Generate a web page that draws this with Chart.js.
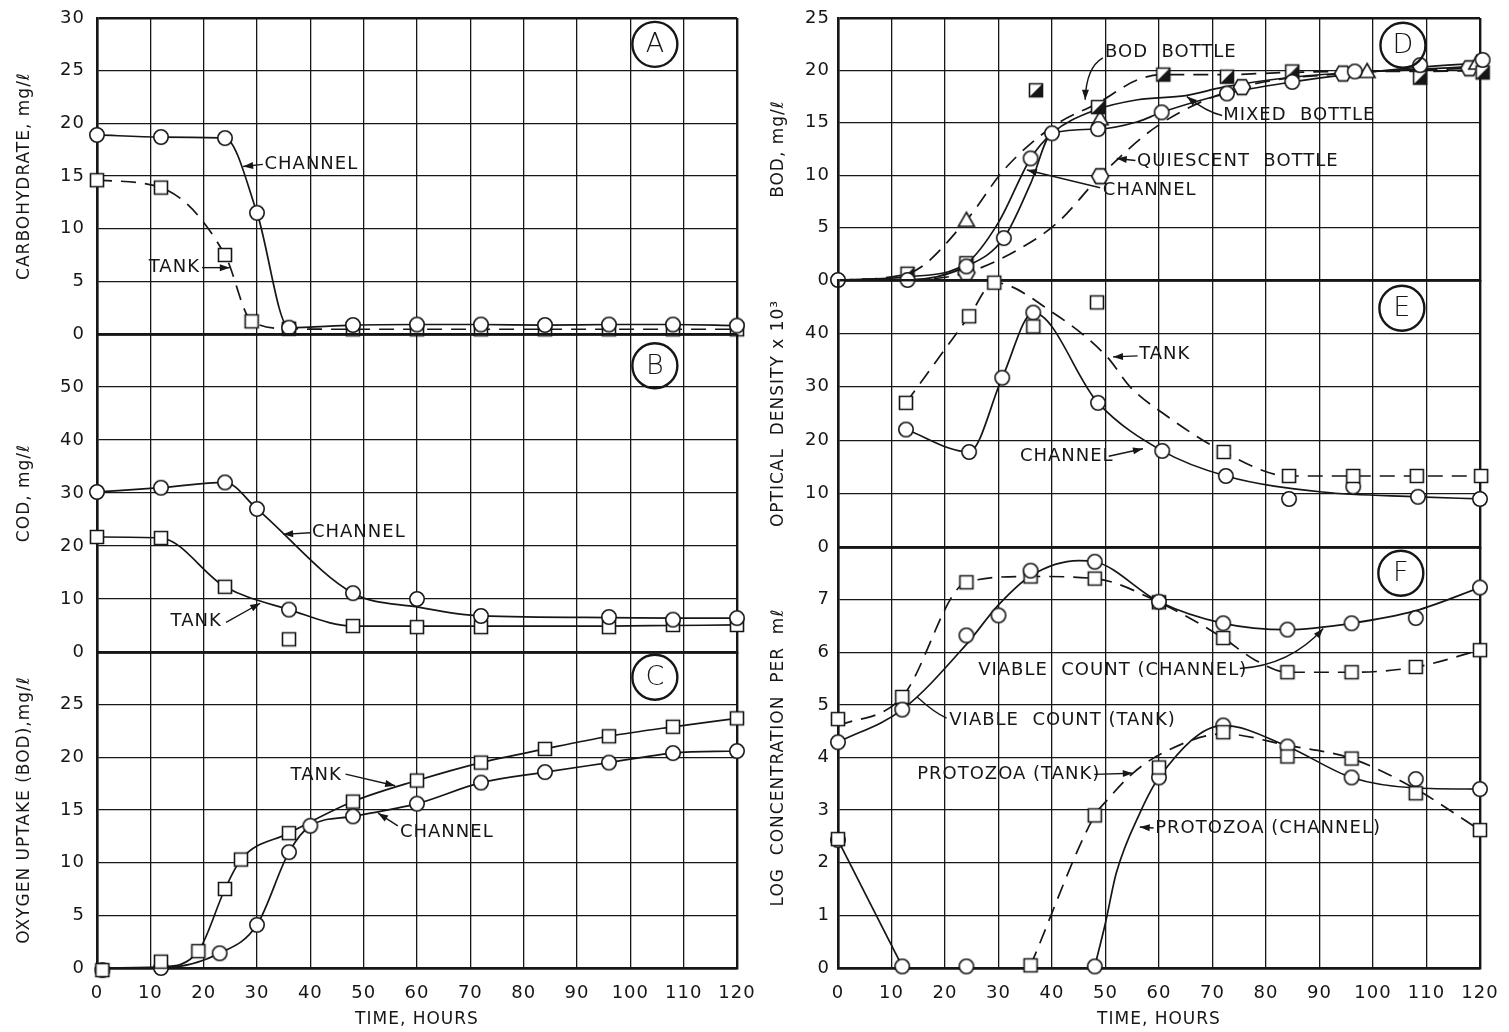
<!DOCTYPE html>
<html>
<head>
<meta charset="utf-8">
<script src="https://cdn.jsdelivr.net/npm/chart.js@4.4.1/dist/chart.umd.min.js"></script>
<style>
  body { margin: 0; background: #fff; width: 1509px; height: 1032px; overflow: hidden; position: relative; }
  canvas { position: absolute; }
</style>
</head>
<body>
<script>
// A: carbohydrate
const aChanX = [0, 12, 24, 30, 36, 48, 60, 72, 84, 96, 108, 120];
const aChanY = [18.9, 18.7, 18.6, 11.5, 0.6, 0.85, 0.9, 0.9, 0.85, 0.9, 0.9, 0.8];
const aTankX = [0, 12, 24, 29, 36, 48, 60, 72, 84, 96, 108, 120];
const aTankY = [14.6, 13.9, 7.5, 1.2, 0.5, 0.45, 0.45, 0.45, 0.45, 0.45, 0.45, 0.45];

// B: COD
const bChanX = [0, 12, 24, 30, 36, 48, 60, 72, 96, 108, 120];
const bChanY = [30.2, 31.0, 32.0, 27.0, 8.0, 11.1, 10.0, 6.8, 6.6, 6.1, 6.4];
const bChanFitX = [0, 12, 24, 30, 48, 60, 72, 96, 108, 120];
const bChanFitY = [30.2, 31.0, 32.0, 27.0, 11.1, 8.5, 6.8, 6.5, 6.4, 6.4];
const bTankX = [0, 12, 24, 36, 48, 60, 72, 96, 108, 120];
const bTankY = [21.7, 21.5, 12.3, 2.4, 4.9, 4.7, 4.7, 4.7, 5.1, 5.1];
const bTankFitX = [0, 12, 24, 36, 48, 60, 72, 96, 108, 120];
const bTankFitY = [21.7, 21.5, 12.3, 8.0, 4.9, 4.9, 4.9, 4.9, 5.0, 5.1];

// C: oxygen uptake
const cTankX = [1, 12, 19, 24, 27, 36, 48, 60, 72, 84, 96, 108, 120];
const cTankY = [-0.2, 0.6, 1.6, 7.5, 10.3, 12.8, 15.8, 17.8, 19.5, 20.8, 22.0, 22.9, 23.7];
const cTankFitX = [0, 12, 19, 24, 27, 36, 48, 60, 72, 84, 96, 108, 120];
const cTankFitY = [0, 0.1, 1.6, 7.5, 10.3, 12.8, 15.8, 17.8, 19.5, 20.8, 22.0, 22.9, 23.7];
const cChanX = [1, 12, 23, 30, 36, 40, 48, 60, 72, 84, 96, 108, 120];
const cChanY = [-0.2, 0.0, 1.4, 4.1, 11.0, 13.5, 14.4, 15.6, 17.6, 18.6, 19.5, 20.4, 20.6];
const cChanFitX = [0, 12, 23, 30, 36, 40, 48, 60, 72, 84, 96, 108, 120];
const cChanFitY = [0, 0, 1.4, 4.1, 11.0, 13.5, 14.4, 15.6, 17.6, 18.6, 19.5, 20.4, 20.6];

// D: BOD
const dChanX = [0, 13, 24, 31, 36, 40, 48.6, 60.5, 72.7, 84.9, 96.6, 108.8, 120.5];
const dChanY = [0, 0, 1.3, 4.0, 11.6, 14.0, 14.4, 16.0, 17.8, 18.9, 19.9, 20.5, 21.0];
const dChanFitX = [0, 13, 24, 31, 36, 40, 48.6, 56, 60.5, 72.7, 84.9, 96.6, 108.8, 120];
const dChanFitY = [0, 0, 1.3, 4.0, 9.2, 14.0, 14.4, 15.1, 16.0, 17.8, 18.9, 19.7, 20.3, 20.7];
const dBodX = [13, 24, 37, 48.6, 60.8, 72.7, 84.9, 108.8, 120.5];
const dBodY = [0.6, 1.6, 18.1, 16.5, 19.6, 19.4, 19.9, 19.3, 19.8];
const dBodFitX = [0, 13, 24, 31, 40, 48.6, 56, 61, 72, 84, 96, 108, 120];
const dBodFitY = [0, 0.6, 5.7, 10.5, 14.6, 16.9, 19.1, 19.6, 19.6, 19.8, 19.9, 19.9, 20.0];
const dMixX = [24, 49, 98.9, 119.4];
const dMixY = [5.7, 15.4, 19.9, 20.7];
const dMixFitX = [0, 13, 24, 30, 36, 40, 48, 56, 65, 72, 84, 96, 108, 120];
const dMixFitY = [0, 0.3, 1.6, 5.5, 11.6, 14.0, 16.2, 17.2, 17.6, 18.4, 19.3, 19.8, 20.1, 20.4];
const dQuiX = [24, 49, 75.5, 94.4, 118];
const dQuiY = [0.7, 9.9, 18.4, 19.7, 20.2];
const dQuiFitX = [0, 12, 24, 36, 41.5, 49, 60, 75.5, 94.4, 118];
const dQuiFitY = [0, 0, 0.7, 3.6, 5.7, 9.9, 14.8, 18.4, 19.7, 20.2];

// E: optical density
const eTankX = [12.7, 24.5, 29.2, 36.5, 48.4, 72.1, 84.3, 96.3, 108.2, 120.2];
const eTankY = [27.0, 43.2, 49.5, 41.3, 45.8, 17.8, 13.3, 13.3, 13.3, 13.3];
const eTankFitX = [12.7, 24.5, 29.2, 40, 50.3, 54.6, 60.8, 72.1, 84.3, 96.3, 108.2, 120.2];
const eTankFitY = [27.0, 43.2, 49.5, 44.0, 35.6, 30.0, 25.0, 17.8, 13.3, 13.3, 13.3, 13.3];
const eChanX = [12.7, 24.5, 30.7, 36.5, 48.6, 60.6, 72.5, 84.3, 96.3, 108.4, 120];
const eChanY = [22.0, 17.8, 31.7, 43.9, 27.0, 18.0, 13.3, 9.0, 11.3, 9.4, 9.0];
const eChanFitX = [12.7, 24.5, 30.7, 36.5, 48.6, 60.6, 72.5, 90.5, 108.4, 120];
const eChanFitY = [22.0, 17.8, 31.7, 43.9, 27.0, 18.0, 13.3, 10.3, 9.4, 9.0];

// F: log concentration
const fVcChanX = [0, 12, 24, 30, 36, 48, 60, 72, 84, 96, 108, 120];
const fVcChanY = [4.29, 4.91, 6.32, 6.70, 7.55, 7.72, 6.96, 6.55, 6.43, 6.55, 6.65, 7.23];
const fVcChanFitX = [0, 12, 24, 30, 36, 45, 48, 60, 72, 84, 96, 108, 120];
const fVcChanFitY = [4.29, 4.91, 6.15, 6.9, 7.45, 7.74, 7.72, 6.96, 6.55, 6.43, 6.55, 6.79, 7.23];
const fVcTankX = [0, 12, 24, 36, 48, 60, 72, 84, 96, 108, 120];
const fVcTankY = [4.73, 5.15, 7.33, 7.44, 7.40, 6.95, 6.27, 5.62, 5.62, 5.72, 6.04];
const fVcTankFitX = [0, 12, 24, 36, 48, 60, 72, 78, 84, 96, 108, 120];
const fVcTankFitY = [4.6, 5.15, 7.33, 7.44, 7.40, 6.95, 6.27, 5.85, 5.62, 5.62, 5.72, 6.04];
const fProTankX = [0, 36, 48, 60, 72, 84, 96, 108, 120];
const fProTankY = [2.45, 0.05, 2.9, 3.81, 4.48, 4.02, 3.98, 3.32, 2.62];
const fProTankFitX = [36, 48, 50.3, 55.1, 60.6, 72, 84, 96, 108, 120];
const fProTankFitY = [0.05, 2.9, 3.19, 3.7, 4.08, 4.45, 4.23, 3.98, 3.40, 2.62];
const fProChanX = [0, 12, 24, 48, 60, 72, 84, 96, 108, 120];
const fProChanY = [2.43, 0.03, 0.03, 0.03, 3.62, 4.61, 4.21, 3.62, 3.59, 3.40];
const fProChanFit1X = [0, 12];
const fProChanFit1Y = [2.43, 0.03];
const fProChanFit2X = [48, 50, 52, 56.4, 60, 72, 84, 96, 108, 120];
const fProChanFit2Y = [0.03, 0.86, 1.8, 2.94, 3.62, 4.61, 4.21, 3.62, 3.42, 3.40];

const INK = '#161616';
Chart.defaults.font.family = 'DejaVu Sans';
Chart.defaults.color = INK;

// marker glyphs, white inside so the curves stop at the outline
function glyph(kind) {
    const s = 24, m = s / 2;
    const c = document.createElement('canvas');
    c.width = c.height = s;
    const g = c.getContext('2d');
    g.lineWidth = 1.6;
    g.strokeStyle = INK;
    g.fillStyle = '#fff';
    g.beginPath();
    if (kind === 'circle') {
        g.arc(m, m, 7.2, 0, Math.PI * 2);
    } else if (kind === 'square' || kind === 'half') {
        g.rect(m - 6.5, m - 6.5, 13, 13);
    } else if (kind === 'triangle') {
        g.moveTo(m, m - 8); g.lineTo(m + 8, m + 6); g.lineTo(m - 8, m + 6); g.closePath();
    } else if (kind === 'hexagon') {
        for (let i = 0; i < 6; i++) {
            const a = Math.PI / 3 * i;
            g.lineTo(m + 8.5 * Math.cos(a), m + 8.5 * Math.sin(a));
        }
        g.closePath();
    }
    g.fill();
    g.stroke();
    if (kind === 'half') {
        g.beginPath();
        g.moveTo(m + 6.5, m - 6.5); g.lineTo(m + 6.5, m + 6.5); g.lineTo(m - 6.5, m + 6.5);
        g.closePath();
        g.fillStyle = INK;
        g.fill();
    }
    return c;
}
const shapes = {};
['circle', 'square', 'half', 'triangle', 'hexagon'].forEach(k => shapes[k] = glyph(k));

const pts = (xs, ys) => xs.map((x, i) => ({ x, y: ys[i] }));

function marks(xs, ys, shape) {
    return { data: pts(xs, ys), showLine: false, pointStyle: shapes[shape], pointRadius: 7, order: 0, clip: false };
}

function curve(xs, ys, dashed) {
    return {
        data: pts(xs, ys), pointRadius: 0, borderColor: INK, borderWidth: 1.7,
        borderDash: dashed ? [15, 9] : [], cubicInterpolationMode: 'monotone', fill: false, order: 1
    };
}

const COLS = [
    { left: 0, width: 760, axisW: 97, padR: 23, tickPad: 12, titlePad: 14 },
    { left: 760, width: 749, axisW: 78, padR: 29, tickPad: 8, titlePad: 8 }
];

const panels = [
    {
        letter: 'A', col: 0, top: 18, bottom: 334, first: true, max: 30, step: 5,
        title: 'CARBOHYDRATE, mg/ℓ',
        sets: [marks(aChanX, aChanY, 'circle'), marks(aTankX, aTankY, 'square'),
               curve(aChanX, aChanY, false), curve(aTankX, aTankY, true)],
        letterAt: [104.6, 27.5],
        notes: [
            { t: 'CHANNEL', x: 31.4, y: 16.1, path: [[31.1, 16.1], [27.4, 15.9]] },
            { t: 'TANK', x: 19.3, y: 6.3, align: 'right', path: [[19.7, 6.3], [24.9, 6.3]] }
        ]
    },
    {
        letter: 'B', col: 0, top: 334, bottom: 652, max: 60, step: 10, hideTop: true,
        title: 'COD, mg/ℓ',
        sets: [marks(bChanX, bChanY, 'circle'), marks(bTankX, bTankY, 'square'),
               curve(bChanFitX, bChanFitY, false), curve(bTankFitX, bTankFitY, false)],
        letterAt: [104.6, 54.0],
        notes: [
            { t: 'CHANNEL', x: 40.3, y: 22.6, path: [[40.0, 22.5], [34.9, 22.2]] },
            { t: 'TANK', x: 23.4, y: 5.7, align: 'right', path: [[24.2, 5.6], [30.6, 9.2]] }
        ]
    },
    {
        letter: 'C', col: 0, top: 652, bottom: 968, last: true, max: 30, step: 5, hideTop: true,
        title: 'OXYGEN UPTAKE (BOD),mg/ℓ',
        sets: [marks(cTankX, cTankY, 'square'), marks(cChanX, cChanY, 'circle'),
               curve(cTankFitX, cTankFitY, false), curve(cChanFitX, cChanFitY, false)],
        letterAt: [104.6, 27.6],
        notes: [
            { t: 'TANK', x: 45.9, y: 18.3, align: 'right', path: [[46.6, 18.4], [55.9, 17.3]] },
            { t: 'CHANNEL', x: 56.8, y: 12.9, path: [[56.4, 13.5], [52.7, 14.7]] }
        ]
    },
    {
        letter: 'D', col: 1, top: 18, bottom: 280, first: true, max: 25, step: 5,
        title: 'BOD, mg/ℓ',
        sets: [marks(dChanX, dChanY, 'circle'), marks(dBodX, dBodY, 'half'),
               marks(dMixX, dMixY, 'triangle'), marks(dQuiX, dQuiY, 'hexagon'),
               curve(dChanFitX, dChanFitY, false), curve(dBodFitX, dBodFitY, true),
               curve(dMixFitX, dMixFitY, false), curve(dQuiFitX, dQuiFitY, true)],
        letterAt: [105.6, 22.4],
        notes: [
            { t: 'BOD  BOTTLE', x: 49.9, y: 21.7, path: [[49.5, 21.2], [46.4, 20.3], [46.2, 17.2]] },
            { t: 'MIXED  BOTTLE', x: 72.0, y: 15.7, path: [[71.8, 15.7], [69.0, 16.0], [65.2, 17.5]] },
            { t: 'QUIESCENT  BOTTLE', x: 55.9, y: 11.3, path: [[55.6, 11.4], [52.1, 11.6]] },
            { t: 'CHANNEL', x: 49.5, y: 8.6, path: [[49.0, 8.8], [35.3, 10.5]] }
        ]
    },
    {
        letter: 'E', col: 1, top: 280, bottom: 547, max: 50, step: 10, hideTop: true,
        title: 'OPTICAL  DENSITY x 10³',
        sets: [marks(eTankX, eTankY, 'square'), marks(eChanX, eChanY, 'circle'),
               curve(eTankFitX, eTankFitY, true), curve(eChanFitX, eChanFitY, false)],
        letterAt: [105.4, 44.7],
        notes: [
            { t: 'TANK', x: 56.3, y: 36.0, path: [[56.0, 35.8], [51.4, 35.6]] },
            { t: 'CHANNEL', x: 34.0, y: 16.9, path: [[50.6, 17.0], [57.0, 18.4]] }
        ]
    },
    {
        letter: 'F', col: 1, top: 547, bottom: 968, last: true, max: 8, step: 1, hideTop: true,
        title: 'LOG  CONCENTRATION  PER  mℓ',
        sets: [marks(fVcChanX, fVcChanY, 'circle'), marks(fVcTankX, fVcTankY, 'square'),
               marks(fProTankX, fProTankY, 'square'), marks(fProChanX, fProChanY, 'circle'),
               curve(fVcChanFitX, fVcChanFitY, false), curve(fVcTankFitX, fVcTankFitY, true),
               curve(fProTankFitX, fProTankFitY, true), curve(fProChanFit1X, fProChanFit1Y, false),
               curve(fProChanFit2X, fProChanFit2Y, false)],
        letterAt: [105.2, 7.5],
        notes: [
            { t: 'VIABLE  COUNT (CHANNEL)', x: 26.2, y: 5.65, path: [[75.1, 5.69], [84.5, 5.75], [90.7, 6.45]] },
            { t: 'VIABLE  COUNT (TANK)', x: 20.8, y: 4.71, head: false, path: [[20.3, 4.75], [18.0, 4.85], [14.8, 5.15]] },
            { t: 'PROTOZOA (TANK)', x: 14.8, y: 3.68, path: [[47.9, 3.68], [55.1, 3.70]] },
            { t: 'PROTOZOA (CHANNEL)', x: 59.3, y: 2.66, path: [[59.0, 2.66], [56.4, 2.68]] }
        ]
    }
];

// wider letter spacing for all chart text
const spacing = {
    id: 'spacing',
    beforeLayout(chart) { chart.ctx.letterSpacing = '1px'; },
    beforeDraw(chart) { chart.ctx.letterSpacing = '1px'; }
};

function leader(ctx, p, head) {
    ctx.beginPath();
    ctx.moveTo(p[0][0], p[0][1]);
    if (p.length === 3) ctx.quadraticCurveTo(p[1][0], p[1][1], p[2][0], p[2][1]);
    else ctx.lineTo(p[1][0], p[1][1]);
    ctx.stroke();
    if (!head) return;
    const [ex, ey] = p[p.length - 1];
    const [bx, by] = p[p.length - 2];
    const a = Math.atan2(ey - by, ex - bx);
    const c = Math.cos(a), s = Math.sin(a);
    ctx.beginPath();
    ctx.moveTo(ex, ey);
    ctx.lineTo(ex - 10 * c + 3.5 * s, ey - 10 * s - 3.5 * c);
    ctx.lineTo(ex - 10 * c - 3.5 * s, ey - 10 * s + 3.5 * c);
    ctx.closePath();
    ctx.fill();
}

function notes(p) {
    return {
        id: 'notes',
        afterDraw(chart) {
            const { ctx } = chart;
            const sx = chart.scales.x, sy = chart.scales.y;
            const px = v => sx.getPixelForValue(v), py = v => sy.getPixelForValue(v);
            ctx.save();
            ctx.letterSpacing = '1px';
            ctx.fillStyle = INK;
            ctx.strokeStyle = INK;
            ctx.lineWidth = 1.4;
            ctx.font = '18px "DejaVu Sans"';
            ctx.textBaseline = 'middle';
            for (const n of p.notes) {
                ctx.textAlign = n.align || 'left';
                ctx.fillText(n.t, px(n.x), py(n.y));
                leader(ctx, n.path.map(([a, b]) => [px(a), py(b)]), n.head !== false);
            }
            // circled panel letter
            const cx = px(p.letterAt[0]), cy = py(p.letterAt[1]);
            ctx.beginPath();
            ctx.lineWidth = 2.4;
            ctx.arc(cx, cy, 22.5, 0, Math.PI * 2);
            ctx.stroke();
            ctx.letterSpacing = '0px';
            ctx.font = '200 27px "DejaVu Sans"';
            ctx.textAlign = 'center';
            ctx.fillText(p.letter, cx, cy + 1);
            ctx.restore();
        }
    };
}

function edge(c, max) {
    const v = c.tick ? c.tick.value : null;
    return (v === 0 || v === max) ? 2.4 : 1.3;
}

panels.forEach(p => {
    const col = COLS[p.col];
    const top = p.first ? 0 : p.top - 14;
    const bottom = p.last ? 1032 : p.bottom + 14;
    const cv = document.createElement('canvas');
    cv.width = col.width;
    cv.height = bottom - top;
    cv.style.left = col.left + 'px';
    cv.style.top = top + 'px';
    document.body.appendChild(cv);

    new Chart(cv, {
        type: 'line',
        data: { datasets: p.sets },
        options: {
            responsive: false,
            animation: false,
            events: [],
            layout: { autoPadding: false, padding: { left: 0, right: col.padR, top: p.top - top, bottom: p.last ? 0 : 14 } },
            plugins: { legend: { display: false }, tooltip: { enabled: false } },
            scales: {
                x: {
                    type: 'linear', min: 0, max: 120,
                    // fixed band height; no extra room for edge labels
                    afterFit: s => { s.height = p.last ? 64 : 0; s.paddingLeft = 0; s.paddingRight = 0; },
                    ticks: { display: !!p.last, stepSize: 10, padding: 15, font: { size: 18 }, color: INK, maxRotation: 0, autoSkip: false },
                    grid: { color: INK, drawTicks: false, lineWidth: c => edge(c, 120) },
                    border: { display: true, color: INK, width: 2.4 },
                    title: { display: !!p.last, text: 'TIME, HOURS', font: { size: 17 }, color: INK, padding: { top: 0, bottom: 2 } }
                },
                y: {
                    min: 0, max: p.max,
                    afterFit: s => { s.width = col.axisW; s.paddingTop = 0; s.paddingBottom = 0; },
                    ticks: {
                        stepSize: p.step, padding: col.tickPad, font: { size: 18 }, color: INK,
                        callback: v => (p.hideTop && v === p.max) ? '' : v
                    },
                    grid: { color: INK, drawTicks: false, lineWidth: c => edge(c, p.max) },
                    border: { display: true, color: INK, width: 2.4 },
                    title: { display: true, text: p.title, font: { size: 17 }, color: INK, padding: { top: col.titlePad, bottom: 0 } }
                }
            }
        },
        plugins: [spacing, notes(p)]
    });
});
</script>
</body>
</html>
